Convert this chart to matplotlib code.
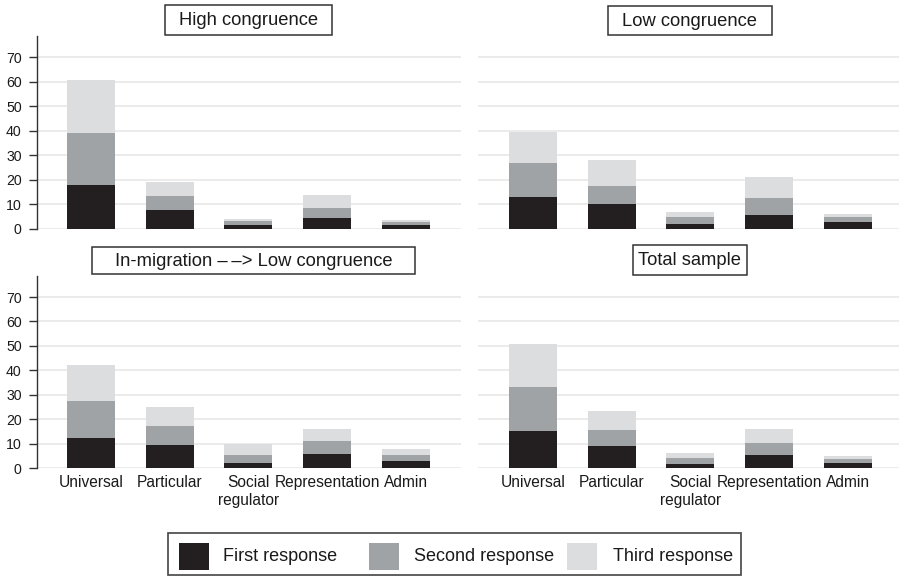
import matplotlib
matplotlib.use("Agg")
import matplotlib.pyplot as plt
from matplotlib.patches import Rectangle
import numpy as np

plt.rcParams['font.family'] = ['Liberation Sans', 'DejaVu Sans']

categories = ["Universal", "Particular", "Social\nregulator", "Representation", "Admin"]
series_names = ["First response", "Second response", "Third response"]
colors = ["#231f20", "#a0a3a6", "#dcdddf"]

# Stacked values (per response) for each panel
high_first = [17.8, 7.6, 1.5, 4.2, 1.5]
high_second = [21.2, 5.7, 1.6, 4.2, 1.1]
high_third = [21.5, 5.7, 0.8, 5.3, 0.9]

low_first = [12.9, 10.1, 1.9, 5.6, 2.7]
low_second = [13.9, 7.3, 2.9, 6.9, 2.1]
low_third = [12.6, 10.6, 2.0, 8.6, 1.2]

inmig_first = [12.3, 9.4, 2.0, 5.7, 2.9]
inmig_second = [15.1, 7.6, 3.3, 5.3, 2.4]
inmig_third = [14.7, 7.9, 4.5, 4.9, 2.5]

total_first = [15.1, 9.0, 1.6, 5.3, 2.0]
total_second = [18.0, 6.5, 2.5, 4.9, 1.7]
total_third = [17.6, 7.8, 2.0, 5.7, 1.2]

panel_titles = ["High congruence", "Low congruence",
                "In-migration \u2013\u2009\u2013> Low congruence", "Total sample"]
y_ticks = [0, 10, 20, 30, 40, 50, 60, 70]

W, H = 899, 576
fig = plt.figure(figsize=(W / 100, H / 100), dpi=100)
fig.patch.set_facecolor("white")
TXT = "#1a1a1a"


def fx(x):
    return x / W


def fy(y):
    return 1 - y / H


panels = [
    dict(data=(high_first, high_second, high_third), rect=(37, 461, 36, 228.7),
         xlim=(-0.685, 4.70), left=True, bottom=False,
         box=(165, 332, 5, 35), title=panel_titles[0]),
    dict(data=(low_first, low_second, low_third), rect=(478, 899, 36, 228.7),
         xlim=(-0.70, 4.65), left=False, bottom=False,
         box=(608, 772, 6, 35), title=panel_titles[1]),
    dict(data=(inmig_first, inmig_second, inmig_third), rect=(37, 461, 276, 468),
         xlim=(-0.685, 4.70), left=True, bottom=True,
         box=(92, 415, 247, 274), title=panel_titles[2]),
    dict(data=(total_first, total_second, total_third), rect=(478, 899, 276, 468),
         xlim=(-0.70, 4.65), left=False, bottom=True,
         box=(633, 747, 245, 275), title=panel_titles[3]),
]

x = np.arange(len(categories))
for p in panels:
    l, r, t, b = p["rect"]
    ax = fig.add_axes([fx(l), fy(b), (r - l) / W, (b - t) / H])
    bottom = np.zeros(len(categories))
    for vals, c in zip(p["data"], colors):
        ax.bar(x, vals, width=0.61, bottom=bottom, color=c, edgecolor="none", zorder=3)
        bottom = bottom + np.array(vals)
    ax.set_xlim(*p["xlim"])
    ax.set_ylim(0, 78.6)
    ax.set_yticks(y_ticks)
    ax.yaxis.grid(True, color="#e6e6e6", linewidth=1.1, zorder=0)
    ax.set_axisbelow(True)
    for s in ["top", "right", "bottom"]:
        ax.spines[s].set_visible(False)
    if p["left"]:
        ax.spines["left"].set_color("#333333")
        ax.spines["left"].set_linewidth(1.0)
        ax.tick_params(axis="y", length=5.5, width=1.0, color="#333333",
                       labelsize=10.2, labelcolor=TXT, pad=5.5)
    else:
        ax.spines["left"].set_visible(False)
        ax.tick_params(axis="y", length=0, labelleft=False)
    ax.set_xticks(x)
    if p["bottom"]:
        ax.set_xticklabels(categories, fontsize=11.2, color=TXT, linespacing=1.25)
        ax.tick_params(axis="x", length=0, pad=5.2)
    else:
        ax.tick_params(axis="x", length=0, labelbottom=False)

    bl, br, bt, bb = p["box"]
    fig.add_artist(Rectangle((fx(bl), fy(bb)), (br - bl) / W, (bb - bt) / H,
                             transform=fig.transFigure, facecolor="white",
                             edgecolor="#333333", linewidth=1.1))
    fig.text(fx((bl + br) / 2), fy((bt + bb) / 2 + 0.5), p["title"], ha="center",
             va="center", fontsize=13.2, color=TXT)

# Legend
fig.add_artist(Rectangle((fx(168), fy(575)), (741 - 168) / W, (575 - 533) / H,
                         transform=fig.transFigure, facecolor="white",
                         edgecolor="#444444", linewidth=1.2))
sq_x = [179, 369, 567]
tx_x = [223, 414, 613]
for name, c, sx, tx in zip(series_names, colors, sq_x, tx_x):
    fig.add_artist(Rectangle((fx(sx), fy(570)), 30 / W, 27 / H,
                             transform=fig.transFigure, facecolor=c, edgecolor="none"))
    fig.text(fx(tx), fy(556.5), name, ha="left", va="center", fontsize=13, color=TXT)

fig.savefig("out.png", dpi=100)
